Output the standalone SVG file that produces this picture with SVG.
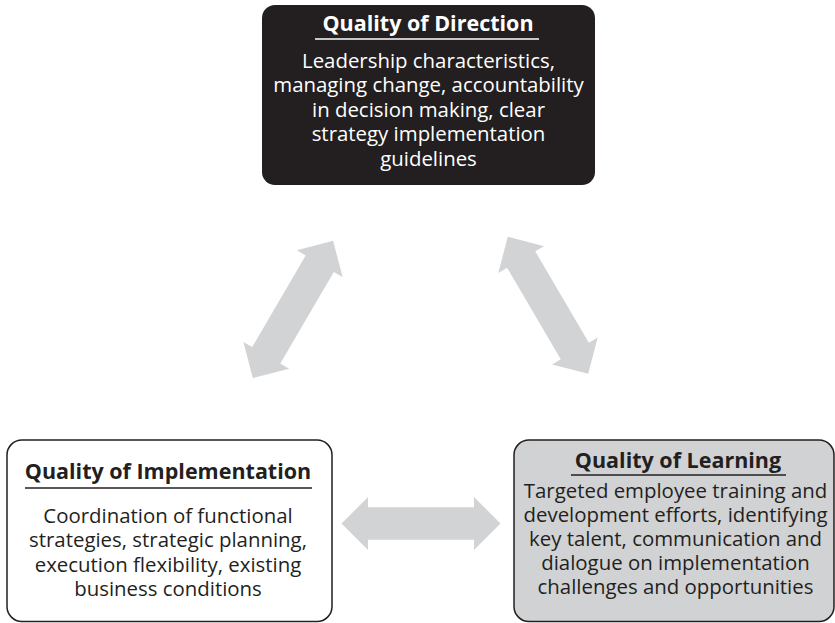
<svg xmlns="http://www.w3.org/2000/svg" width="835" height="623" viewBox="0 0 835 623">
  <style>
    .title { font-family: "Open Sans", "Noto Sans", sans-serif; font-weight: bold; font-size: 21.5px; text-anchor: middle; }
    .body { font-family: "Open Sans", "Noto Sans", sans-serif; font-size: 20.4px; text-anchor: middle; }
    .light { fill: #ffffff; }
    .dark { fill: #231f20; }
    .rule-light { stroke: #ffffff; stroke-width: 1.5; }
    .rule-dark { stroke: #231f20; stroke-width: 1.5; }
    .arrow { fill: #d2d3d5; }
  </style>
  <defs>
    <!-- double-headed block arrow, centred on the origin, pointing along x -->
    <polygon id="dbl-arrow" points="-79.5,0 -53,-26.5 -53,-16.3 53,-16.3 53,-26.5 79.5,0 53,26.5 53,16.3 -53,16.3 -53,26.5"/>
  </defs>

  <g id="connectors">
    <use href="#dbl-arrow" class="arrow" transform="translate(293,309.5) rotate(-59.7)"/>
    <use href="#dbl-arrow" class="arrow" transform="translate(548,305.3) rotate(59.6)"/>
    <use href="#dbl-arrow" class="arrow" transform="translate(421,523.5)"/>
  </g>

  <g id="direction">
    <rect x="262" y="5" width="333" height="180" rx="13" ry="13" fill="#231f20"/>
    <text class="title light" x="428" y="30.5">Quality of Direction</text>
    <line class="rule-light" x1="315" y1="39" x2="539" y2="39"/>
    <text class="body light" y="68"><tspan x="428.5">Leadership characteristics,</tspan><tspan x="428.5" dy="24.4">managing change, accountability</tspan><tspan x="428.5" dy="24.4">in decision making, clear</tspan><tspan x="428.5" dy="24.4">strategy implementation</tspan><tspan x="428.5" dy="24.4">guidelines</tspan></text>
  </g>

  <g id="implementation">
    <rect x="7" y="440" width="325" height="181.5" rx="15" ry="15" fill="#ffffff" stroke="#231f20" stroke-width="1.5"/>
    <text class="title dark" x="168" y="479">Quality of Implementation</text>
    <line class="rule-dark" x1="25" y1="488" x2="312" y2="488"/>
    <text class="body dark" y="523"><tspan x="168">Coordination of functional</tspan><tspan x="168" dy="24.3">strategies, strategic planning,</tspan><tspan x="168" dy="24.3">execution flexibility, existing</tspan><tspan x="168" dy="24.3">business conditions</tspan></text>
  </g>

  <g id="learning">
    <rect x="514" y="440" width="320" height="181.5" rx="15" ry="15" fill="#d1d2d4" stroke="#231f20" stroke-width="1.5"/>
    <text class="title dark" x="678" y="467.5">Quality of Learning</text>
    <line class="rule-dark" x1="571" y1="475" x2="786" y2="475"/>
    <text class="body dark" y="498"><tspan x="675.5">Targeted employee training and</tspan><tspan x="675.5" dy="24">development efforts, identifying</tspan><tspan x="675.5" dy="24">key talent, communication and</tspan><tspan x="675.5" dy="24">dialogue on implementation</tspan><tspan x="675.5" dy="24">challenges and opportunities</tspan></text>
  </g>
</svg>
